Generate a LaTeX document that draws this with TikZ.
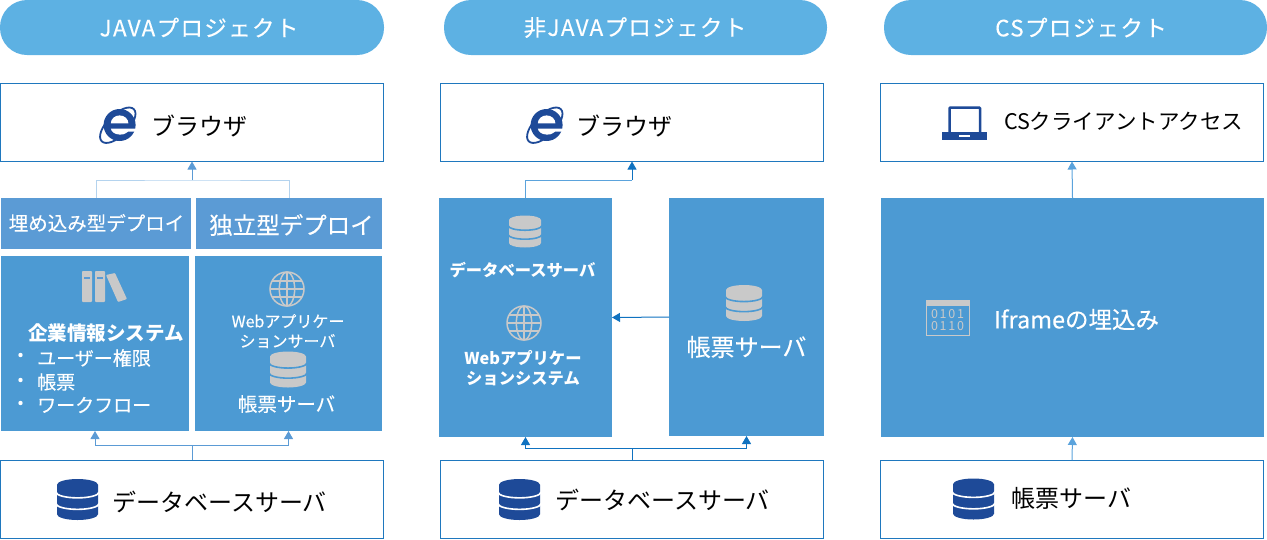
\documentclass[tikz,border=0pt]{standalone}
\usepackage{fontspec}
\setmainfont{Noto Sans CJK JP}
\newfontfamily\medfont{Noto Sans CJK JP}[FakeBold=0.25]
\newfontfamily\titlefont{Noto Sans CJK JP}[FakeBold=0.25,LetterSpace=6]
\newfontfamily\bitfont{Noto Sans CJK JP}[LetterSpace=14]
\usetikzlibrary{arrows.meta}

\definecolor{pillblue}{HTML}{5DB1E3}
\definecolor{boxblue}{HTML}{4C9AD3}
\definecolor{deployblue}{HTML}{5B9BD5}
\definecolor{edgeblue}{HTML}{1F78BE}
\definecolor{iconblue}{HTML}{1E4A98}
\definecolor{icongray}{HTML}{C9C9C9}
\definecolor{paleline}{HTML}{B4D3EE}
\definecolor{midline}{HTML}{5BA3DC}
\definecolor{darkline}{HTML}{0F72C0}

\newcommand{\fsize}[1]{\fontsize{#1}{#1}\selectfont}

\tikzset{
  x=1pt, y=-1pt,
  pill/.style={rounded corners=27pt, fill=pillblue, inner sep=0pt, outer sep=0pt, minimum height=55pt, minimum width=384pt},
  outline/.style={draw=edgeblue, line width=1pt, fill=white, inner sep=0pt, outer sep=0pt, minimum width=383pt, minimum height=78pt},
  panel/.style={fill=boxblue, inner sep=0pt, outer sep=0pt},
  deploy/.style={fill=deployblue, inner sep=0pt, outer sep=0pt, minimum height=51pt},
  txt/.style={inner sep=0pt, text=white},
  blacktxt/.style={inner sep=0pt, text=black},
  link/.style={line width=1pt},
  tip/.style={-{Triangle[length=8pt,width=9pt]}},
}

% x, y, half width, colour, gap colour
\newcommand{\dbicon}[5]{
  \begin{scope}[shift={(#1,#2)},scale=#3]
    \fill[#4] (-1,-.72) arc (180:360:1 and .28) -- (1,.72) arc (0:180:1 and .28) -- cycle;
    \draw[#5, line width=1.6pt] (-1.05,-.36) arc (180:0:1.05 and .28);
    \draw[#5, line width=1.6pt] (-1.05,.2) arc (180:0:1.05 and .28);
  \end{scope}
}
% x, y, radius
\newcommand{\globeicon}[3]{
  \begin{scope}[shift={(#1,#2)},scale=#3, draw=icongray, line width=1.5pt]
    \draw (0,0) circle (1);
    \draw (0,0) ellipse (.45 and 1);
    \draw (0,-1) -- (0,1);
    \draw (-1,0) -- (1,0);
    \draw (-.86,-.48) -- (.86,-.48);
    \draw (-.86,.48) -- (.86,.48);
  \end{scope}
}
% x, y, radius
\newcommand{\ieicon}[3]{
  \begin{scope}[shift={(#1,#2)},scale=#3]
    \draw[iconblue, line width=1.8pt, rotate=45] (-.02,0) ellipse (1.42 and .66);
    \fill[iconblue] (.1,0) circle (1);
    \fill[white] (-.45,-.1) arc (180:360:.55 and .5) -- cycle;
    \fill[white] (-.45,.22) -- (1.2,.22) -- (1.2,.42) -- (.62,.42)
      .. controls (.4,.6) and (.2,.62) .. (.1,.6)
      .. controls (-.25,.58) and (-.42,.4) .. (-.45,.22);
  \end{scope}
}

\begin{document}
\begin{tikzpicture}
  \useasboundingbox (0,0) rectangle (1267,539);

  % titles
  \node[pill] (title1) at (192,27.5) {};
  \node[pill, minimum width=383pt] (title2) at (635.5,27.5) {};
  \node[pill, minimum width=383pt] (title3) at (1075.5,27.5) {};
  \node[txt] (titletxt1) at (199,27.5) {\titlefont\fsize{22.5}JAVAプロジェクト};
  \node[txt] (titletxt2) at (635,27.5) {\titlefont\fsize{22.5}非JAVAプロジェクト};
  \node[txt] (titletxt3) at (1081,27.5) {\titlefont\fsize{22.5}CSプロジェクト};

  % top and bottom rows
  \node[outline] (brw1) at (192,122.5) {};
  \node[outline] (brw2) at (632,122.5) {};
  \node[outline] (brw3) at (1072,122.5) {};
  \node[outline] (db1) at (192,499) {};
  \node[outline] (db2) at (632,499) {};
  \node[outline] (db3) at (1072,499) {};

  % first column
  \node[deploy, minimum width=190pt] (dep1) at (96,223.5) {};
  \node[deploy, minimum width=186pt] (dep2) at (289,223.5) {};
  \node[panel, minimum width=188pt, minimum height=175pt] (info1) at (95,343.5) {};
  \node[panel, minimum width=187pt, minimum height=175pt] (info2) at (288.5,343.5) {};

  % second column
  \node[panel, minimum width=173pt, minimum height=239pt] (mid1) at (525.5,317.5) {};
  \node[panel, minimum width=155pt, minimum height=238pt] (mid2) at (746.5,317) {};

  % third column
  \node[panel, minimum width=383pt, minimum height=239pt] (embed) at (1072.5,317.5) {};

  % junctions
  \coordinate (jtop1) at (192,180);
  \coordinate (jbot1) at (192,445);
  \coordinate (jtop2) at (632,180);
  \coordinate (jbot2) at (632,448);

  % connectors
  \draw[link, paleline] (dep1.north) |- (jtop1) -| (dep2.north);
  \draw[link, deployblue, tip] (jtop1) -- (brw1.south);
  \draw[link, deployblue] (db1.north) -- (jbot1);
  \draw[link, deployblue, tip] (jbot1) -| (info1.south);
  \draw[link, deployblue, tip] (jbot1) -| (info2.south);

  \draw[link, midline] (mid1.north) |- (jtop2);
  \draw[link, darkline, tip] (jtop2) -- (brw2.south);
  \draw[link, darkline, tip] (mid2.west) -- (mid1.east);
  \draw[link, darkline] (db2.north) -- (jbot2);
  \draw[link, darkline, tip] (jbot2) -| (mid1.south);
  \draw[link, darkline, tip] (jbot2) -| (mid2.south);

  \draw[link, midline, tip] (embed.north) -- (brw3.south);
  \draw[link, midline, tip] (db3.north) -- (embed.south);

  % labels in the outlined boxes
  \node[blacktxt] (brwtxt1) at (199.5,125.5) {\fsize{24}ブラウザ};
  \node[blacktxt] (brwtxt2) at (624,125.5) {\fsize{24}ブラウザ};
  \node[blacktxt] (cstxt) at (1123.5,121.5) {\fsize{21.5}CSクライアントアクセス};
  \node[blacktxt] (dbtxt1) at (219.5,502) {\fsize{24}データベースサーバ};
  \node[blacktxt] (dbtxt2) at (662.5,500) {\fsize{24}データベースサーバ};
  \node[blacktxt] (dbtxt3) at (1071.5,498) {\fsize{24}帳票サーバ};

  % labels in the first column
  \node[txt] (deptxt1) at (96.5,223) {\medfont\fsize{19.5}埋め込み型デプロイ};
  \node[txt] (deptxt2) at (291.5,225) {\medfont\fsize{23.5}独立型デプロイ};
  \node[txt] (systxt) at (106,333) {\fsize{19.5}\bfseries 企業情報システム};
  \node[txt, anchor=west] (item1) at (37,358) {\medfont\fsize{19}ユーザー権限};
  \node[txt, anchor=west] (item2) at (37,382) {\medfont\fsize{19}帳票};
  \node[txt, anchor=west] (item3) at (37,405) {\medfont\fsize{19}ワークフロー};
  \foreach \y in {355,380,403}
    \fill[white] (20.5,\y) circle (2.2);
  \node[txt] (webtxt1) at (288,321) {\medfont\fsize{16}Webアプリケー};
  \node[txt] (webtxt2) at (287.5,341) {\medfont\fsize{16}ションサーバ};
  \node[txt] (formtxt1) at (286.5,404) {\medfont\fsize{19.5}帳票サーバ};

  % labels in the second column
  \node[txt] (dbtxt4) at (522.5,270) {\fsize{16.3}\bfseries データベースサーバ};
  \node[txt] (webtxt3) at (523,358) {\fsize{16.3}\bfseries Webアプリケー};
  \node[txt] (webtxt4) at (523,379) {\fsize{16.3}\bfseries ションシステム};
  \node[txt] (formtxt2) at (746.5,347) {\medfont\fsize{24}帳票サーバ};

  % label in the third column
  \node[txt] (embedtxt) at (1076.5,319.5) {\medfont\fsize{23.5}Iframeの埋込み};

  % icons
  \ieicon{118}{125}{16}
  \ieicon{545}{125}{16}
  \dbicon{77.5}{499.5}{20.5}{iconblue}{white}
  \dbicon{519.5}{499.5}{20.5}{iconblue}{white}
  \dbicon{973.5}{499}{20.5}{iconblue}{white}
  \dbicon{288}{369.5}{18}{icongray}{boxblue}
  \dbicon{525}{231.5}{16}{icongray}{boxblue}
  \dbicon{744}{303}{18}{icongray}{boxblue}
  \globeicon{287}{289}{17}
  \globeicon{524}{323}{17}

  % books
  \fill[icongray, rounded corners=.8pt] (82,271) rectangle (92,302);
  \fill[icongray, rounded corners=.8pt] (95,271) rectangle (105,302);
  \fill[icongray, rounded corners=.8pt] (106,275) -- (115,273) -- (127,299) -- (118,302) -- cycle;
  \fill[deployblue] (84,276.5) rectangle (90,278.5);
  \fill[deployblue] (97,276.5) rectangle (103,278.5);

  % laptop
  \draw[iconblue, line width=2.5pt, rounded corners=1pt] (949.5,132) -- (949.5,107.5) -- (980,107.5) -- (980,132);
  \fill[iconblue] (942,132) rectangle (987,139.5);
  \fill[white] (959,134.5) rectangle (970,137);

  % binary window
  \draw[icongray, line width=1pt] (926,300.5) rectangle (969,335);
  \fill[icongray] (926,300.5) rectangle (969,306);
  \node[inner sep=0pt, text=icongray] (bits1) at (947.5,314.5) {\bitfont\fsize{12.5}0101};
  \node[inner sep=0pt, text=icongray] (bits2) at (947.5,326) {\bitfont\fsize{12.5}0110};
\end{tikzpicture}
\end{document}
